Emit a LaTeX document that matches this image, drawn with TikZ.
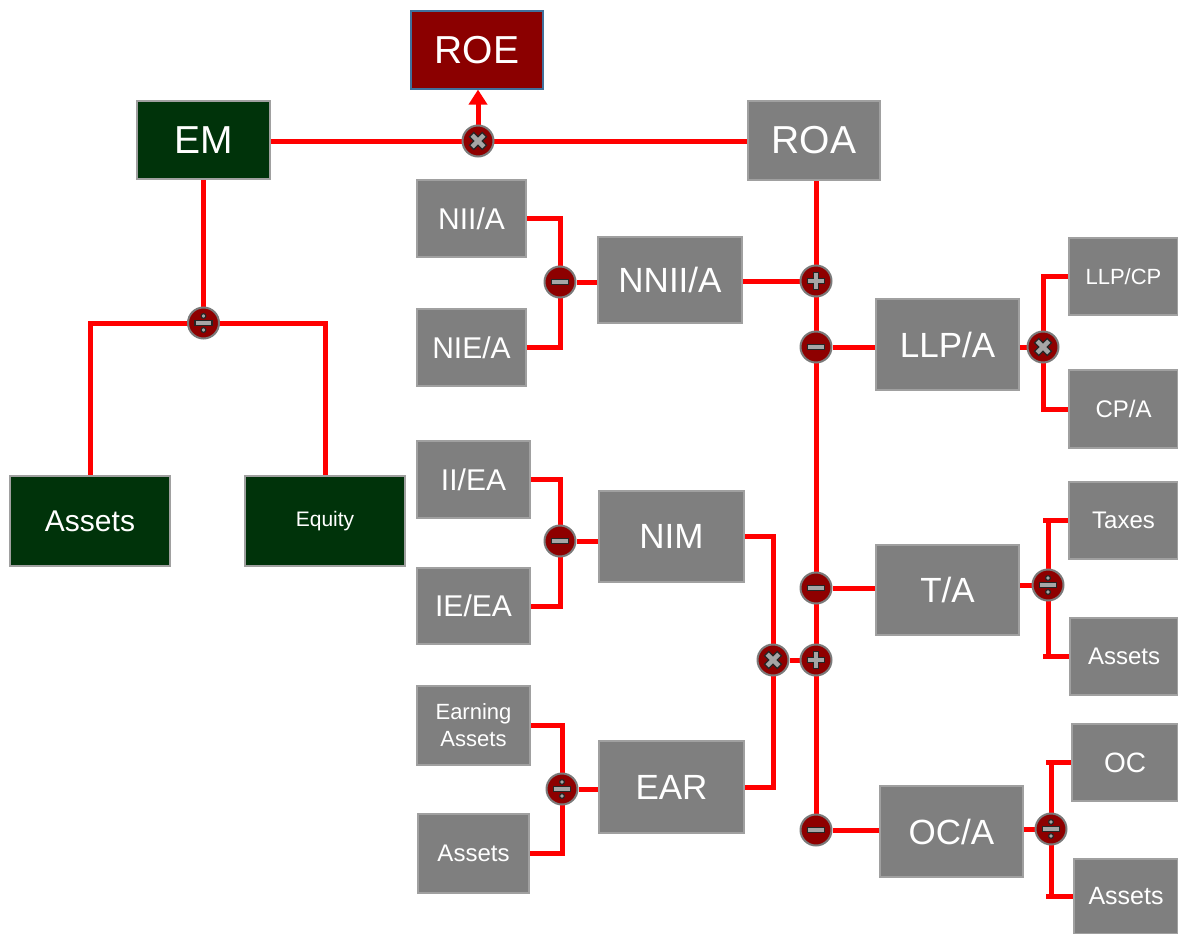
\documentclass[tikz,border=0pt]{standalone}
\usepackage{fontspec}
\setmainfont{Liberation Sans}
\usetikzlibrary{arrows.meta,backgrounds}
\definecolor{boxgray}{HTML}{7F7F7F}
\definecolor{boxedge}{HTML}{A0A0A0}
\definecolor{dkgreen}{HTML}{00330A}
\definecolor{dkred}{HTML}{8B0000}
\definecolor{roeedge}{HTML}{41719C}
\definecolor{linered}{HTML}{FF0000}
\definecolor{opfill}{HTML}{8E0000}
\definecolor{opedge}{HTML}{7A7A7A}
\definecolor{symfill}{HTML}{A6A6A6}
\definecolor{symedge}{HTML}{262626}
\tikzset{
  box/.style={rectangle, fill=boxgray, draw=boxedge, line width=1.2pt, text=white, inner sep=0pt, align=center},
  gbox/.style={box, fill=dkgreen, draw=boxedge},
  rbox/.style={box, fill=dkred, draw=roeedge},
  op/.style={circle, fill=opfill, draw=opedge, line width=2pt, minimum size=31pt, inner sep=0pt},
  link/.style={draw=linered, line width=5pt},
  fXL/.style={font=\fontsize{39}{44}\selectfont},
  fL/.style={font=\fontsize{35}{40}\selectfont},
  fM/.style={font=\fontsize{30}{34}\selectfont},
  fS/.style={font=\fontsize{24}{28}\selectfont},
  fXS/.style={font=\fontsize{22}{27}\selectfont},
  sym/.style={fill=symfill, draw=symedge, line width=1.2pt},
  opplus/.pic={\path[sym] (-2.8,-8.5) -- (2.8,-8.5) -- (2.8,-2.8) -- (8.5,-2.8) -- (8.5,2.8) -- (2.8,2.8) -- (2.8,8.5) -- (-2.8,8.5) -- (-2.8,2.8) -- (-8.5,2.8) -- (-8.5,-2.8) -- (-2.8,-2.8) -- cycle;},
  optimes/.pic={\path[sym,rotate=45] (-3,-9) -- (3,-9) -- (3,-3) -- (9,-3) -- (9,3) -- (3,3) -- (3,9) -- (-3,9) -- (-3,3) -- (-9,3) -- (-9,-3) -- (-3,-3) -- cycle;},
  opminus/.pic={\path[sym] (-8.5,-2.8) rectangle (8.5,2.8);},
  opdiv/.pic={\path[sym] (-8.5,-2.5) rectangle (8.5,2.5); \path[sym] (0,-7) circle (2.4); \path[sym] (0,7) circle (2.4);}
}
\begin{document}
\begin{tikzpicture}[x=1pt,y=-1pt]
\useasboundingbox (0,0) rectangle (1178,934);
% boxes
\node[rbox,fXL,minimum width=132pt,minimum height=78pt] (ROE) at (477,50) {ROE};
\node[gbox,fXL,minimum width=133pt,minimum height=78pt] (EM) at (203.5,140) {EM};
\node[box,fXL,minimum width=132pt,minimum height=79pt] (ROA) at (814,140.5) {ROA};
\node[box,fM,minimum width=109pt,minimum height=77pt] (NIIA) at (471.5,218.5) {NII/A};
\node[box,fL,minimum width=144pt,minimum height=86pt] (NNIIA) at (670,280) {NNII/A};
\node[box,fM,minimum width=109pt,minimum height=77pt] (NIEA) at (471.5,347.5) {NIE/A};
\node[box,fL,minimum width=143pt,minimum height=91pt] (LLPA) at (947.5,344.5) {LLP/A};
\node[box,fXS,minimum width=109pt,minimum height=77pt] (LLPCP) at (1123.5,276.5) {LLP/CP};
\node[box,fS,minimum width=109pt,minimum height=78pt] (CPA) at (1123.5,409) {CP/A};
\node[gbox,fM,minimum width=160pt,minimum height=90pt] (AssetsG) at (90,521) {Assets};
\node[gbox,font=\fontsize{21}{25}\selectfont,minimum width=160pt,minimum height=90pt] (Equity) at (325,521) {Equity};
\node[box,fM,minimum width=113pt,minimum height=77pt] (IIEA) at (473.5,479.5) {II/EA};
\node[box,fL,minimum width=145pt,minimum height=91pt] (NIM) at (671.5,536.5) {NIM};
\node[box,fM,minimum width=113pt,minimum height=76pt] (IEEA) at (473.5,606) {IE/EA};
\node[box,fL,minimum width=143pt,minimum height=90pt] (TA) at (947.5,590) {T/A};
\node[box,fS,minimum width=109pt,minimum height=77pt] (Taxes) at (1123.5,520.5) {Taxes};
\node[box,fS,minimum width=108pt,minimum height=77pt] (AssetsT) at (1124,656.5) {Assets};
\node[box,font=\fontsize{22}{27}\selectfont,minimum width=113pt,minimum height=79pt] (EarnA) at (473.5,725.5) {Earning\\Assets};
\node[box,fL,minimum width=145pt,minimum height=92pt] (EAR) at (671.5,787) {EAR};
\node[box,fS,minimum width=111pt,minimum height=79pt] (AssetsE) at (473.5,853.5) {Assets};
\node[box,fL,minimum width=143pt,minimum height=91pt] (OCA) at (951.5,831.5) {OC/A};
\node[box,font=\fontsize{28}{32}\selectfont,minimum width=106pt,minimum height=77pt] (OC) at (1125,762.5) {OC};
\node[box,font=\fontsize{25}{29}\selectfont,minimum width=104pt,minimum height=75pt] (AssetsO) at (1126,896.5) {Assets};
% operators
\node[op] (oROE) at (478,141) {};
\node[op] (oEM) at (203.5,323) {};
\node[op] (oNNII) at (560,282) {};
\node[op] (oROA) at (816,281) {};
\node[op] (oLLP) at (816,347) {};
\node[op] (oLLPx) at (1043,347) {};
\node[op] (oNIM) at (560,541) {};
\node[op] (oTA) at (816,588) {};
\node[op] (oTAd) at (1048,585) {};
\node[op] (oX) at (773,660) {};
\node[op] (oP2) at (816,660) {};
\node[op] (oOCA) at (816,830) {};
\node[op] (oOCd) at (1051,829) {};
\node[op] (oEAR) at (562,789) {};
% symbols
\pic at (oROE) {optimes};
\pic at (oEM) {opdiv};
\pic at (oNNII) {opminus};
\pic at (oROA) {opplus};
\pic at (oLLP) {opminus};
\pic at (oLLPx) {optimes};
\pic at (oNIM) {opminus};
\pic at (oTA) {opminus};
\pic at (oTAd) {opdiv};
\pic at (oX) {optimes};
\pic at (oP2) {opplus};
\pic at (oOCA) {opminus};
\pic at (oOCd) {opdiv};
\pic at (oEAR) {opdiv};
% connectors
\begin{scope}[on background layer]
\draw[link] (EM.east |- oROE) -- (ROA.west |- oROE);
\draw[link,-{Triangle[width=18pt,length=15pt]}] (oROE.north) -- (oROE |- ROE.south);
\draw[link] (oEM |- EM.south) -- (oEM.center);
\draw[link] (AssetsG.north) |- (oEM.center) -| (Equity.north);
\draw[link] (NIIA.east) -| (oNNII.center) |- (NIEA.east);
\draw[link] (oNNII) -- (oNNII -| NNIIA.west);
\draw[link] (oROA -| NNIIA.east) -- (oROA);
\draw[link] (oROA |- ROA.south) -- (oOCA.center);
\draw[link] (oLLP) -- (oLLP -| LLPA.west);
\draw[link] (oLLPx -| LLPA.east) -- (oLLPx);
\draw[link] (LLPCP.west) -| (oLLPx.center) |- (CPA.west);
\draw[link] (IIEA.east) -| (oNIM.center) |- (IEEA.east);
\draw[link] (oNIM) -- (oNIM -| NIM.west);
\draw[link] (NIM.east) -| (oX.center) |- (EAR.east);
\draw[link] (oX) -- (oP2);
\draw[link] (EarnA.east) -| (oEAR.center) |- (AssetsE.east);
\draw[link] (oEAR) -- (oEAR -| EAR.west);
\draw[link] (oTA) -- (oTA -| TA.west);
\draw[link] (oTAd -| TA.east) -- (oTAd);
\draw[link] (Taxes.west -| oTAd) -- (oTAd.center |- AssetsT.west);
\draw[link] (Taxes.west) -- ([xshift=-5pt]Taxes.west -| oTAd);
\draw[link] (AssetsT.west) -- ([xshift=-5pt]AssetsT.west -| oTAd);
\draw[link] (oOCA) -- (oOCA -| OCA.west);
\draw[link] (oOCd -| OCA.east) -- (oOCd);
\draw[link] (OC.west -| oOCd) -- (oOCd.center |- AssetsO.west);
\draw[link] (OC.west) -- ([xshift=-5pt]OC.west -| oOCd);
\draw[link] (AssetsO.west) -- ([xshift=-5pt]AssetsO.west -| oOCd);
\end{scope}
\end{tikzpicture}
\end{document}
